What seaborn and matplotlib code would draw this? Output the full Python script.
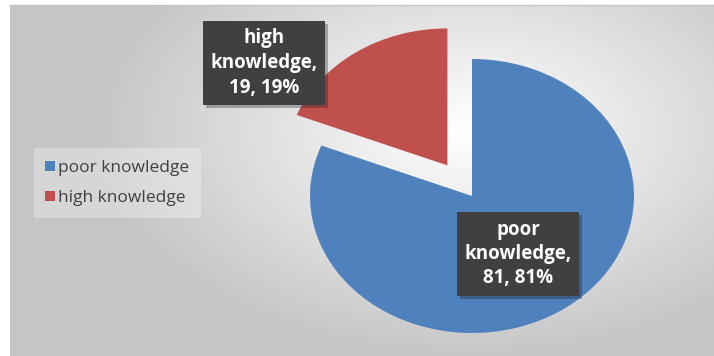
import numpy as np
import matplotlib
matplotlib.use("Agg")
import matplotlib.pyplot as plt
import matplotlib.patheffects as pe
from matplotlib.lines import Line2D
import seaborn as sns

# data
categories = ["poor knowledge", "high knowledge"]
counts = [81, 19]
percents = [81, 19]
colors = ["#4f81bd", "#c0504d"]

sns.set_theme(style="white")
plt.rcParams["font.family"] = ["Open Sans", "DejaVu Sans"]

W, H = 714, 356
fig = plt.figure(figsize=(W / 100, H / 100), dpi=100)
fig.patch.set_facecolor("white")

# radial gradient background of the chart area
bg = fig.add_axes([0, 0, 1, 1], zorder=0)
bg.set_xlim(0, W)
bg.set_ylim(H, 0)
bg.axis("off")
x0, y0 = 10, 5
xx, yy = np.meshgrid(np.arange(x0, W), np.arange(y0, H))
d = np.sqrt(((xx - 470) / 380) ** 2 + ((yy - 130) / 230) ** 2)
shade = 1 - 0.23 * np.clip(d, 0, 1)
bg.imshow(shade, cmap="gray", vmin=0, vmax=1, extent=(x0, W, H, y0),
          aspect="auto", interpolation="bilinear")
bg.plot([x0, W], [y0, y0], color="#c4c4c4", lw=1)

# pie (image is stretched horizontally, so use separate x / y scales)
ax = fig.add_axes([0, 0, 1, 1], zorder=1)
wedges, _ = ax.pie(counts, colors=colors, startangle=90, counterclock=False,
                   explode=[0, 0.27], radius=1, wedgeprops=dict(linewidth=0))
ax.set_aspect("auto")
cx, cy, rx, ry = 472, 196, 162, 137
ax.set_xlim(-cx / rx, (W - cx) / rx)
ax.set_ylim(-(H - cy) / ry, cy / ry)
ax.axis("off")
ax.patch.set_alpha(0)

# data labels and legend on top
ov = fig.add_axes([0, 0, 1, 1], zorder=2)
ov.set_xlim(0, W)
ov.set_ylim(H, 0)
ov.axis("off")
ov.patch.set_alpha(0)

label_pos = [(518, 254), (264, 63)]
for name, n, p, (lx, ly) in zip(categories, counts, percents, label_pos):
    first, second = name.split()
    txt = f"{first}\n{second},\n{n}, {p}%"
    t = ov.text(lx, ly, txt, ha="center", va="center", color="white",
                fontsize=13.5, fontweight="bold", linespacing=1.3,
                bbox=dict(boxstyle="square,pad=0.4", fc="#404040", ec="none"))
    t.get_bbox_patch().set_path_effects(
        [pe.withSimplePatchShadow(offset=(2, -2), alpha=0.3), pe.Normal()])

handles = [Line2D([], [], marker="s", ls="", markersize=7,
                  markerfacecolor=c, markeredgewidth=0) for c in colors]
leg = ov.legend(handles, categories, loc="center left",
                bbox_to_anchor=(25 / W, 1 - 183 / H), frameon=True,
                facecolor="white", framealpha=0.3,
                fontsize=12.5, labelcolor="#404040", handlelength=0.5,
                handletextpad=0.2, labelspacing=0.8, borderpad=0.7)
frame = leg.get_frame()
frame.set_edgecolor("none")
frame.set_boxstyle("square", pad=0)

fig.savefig("out.png", dpi=100)
